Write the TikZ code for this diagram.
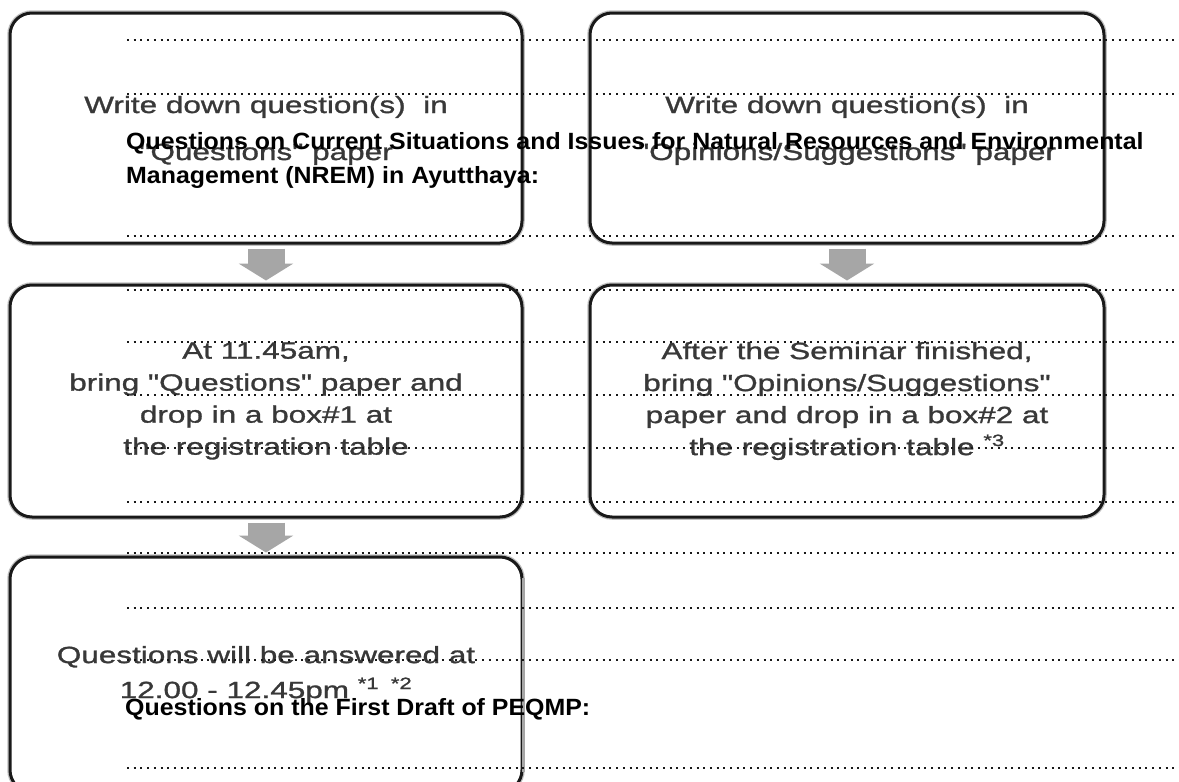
\documentclass[tikz,border=0pt]{standalone}
\usepackage{fontspec}
\setmainfont{Liberation Sans}
\newfontfamily\boxfont{Liberation Sans}[FakeStretch=1.34,FakeBold=1.2]
\newfontfamily\headfont{Liberation Sans}[FakeStretch=1.06]
\usetikzlibrary{arrows.meta,calc}
\definecolor{boxtext}{HTML}{383838}
\definecolor{arrowgray}{HTML}{A6A6A6}
\begin{document}
\begin{tikzpicture}[x=1pt,y=-1pt,
  stepbox/.style={draw=black!90, line width=3pt, fill=white,
    rounded corners=22pt, inner sep=0pt, align=center, text=boxtext,
    preaction={draw=black!25, line width=5.5pt},
    font=\boxfont\fontsize{23.5}{32}\selectfont},
  widebox/.style={stepbox, minimum width=512pt, minimum height=230pt},
  blockarrow/.style={draw=arrowgray, line width=37pt,
    -{Triangle[width=54pt,length=17pt]}, shorten <=4pt, shorten >=3pt},
  dotline/.style={black!90, line width=2pt, dash pattern=on 2pt off 4.7pt},
  head/.style={inner sep=0pt, anchor=base west, text=black,
    font=\headfont\bfseries\fontsize{23.5}{28}\selectfont}]
\useasboundingbox (0,0) rectangle (1179,782);
\clip (0,0) rectangle (1179,782);
\fill[white] (0,0) rectangle (1179,782);

% boxes
\node[widebox, font=\boxfont\fontsize{23.5}{47}\selectfont, text depth=0pt] (b1) at (266,128)
  {Write down question(s)\ \ in\\"Questions" paper};
\node[widebox, font=\boxfont\fontsize{23.5}{47}\selectfont, text depth=0pt, minimum width=514pt] (b2) at (847,128)
  {Write down question(s)\ \ in\\"Opinions/Suggestions" paper};
\node[widebox, minimum height=232pt] (b3) at (266,401)
  {At 11.45am,\\bring "Questions" paper and\\drop in a box\#1 at\\the registration table};
\node[widebox, minimum height=232pt, minimum width=514pt] (b4) at (847,401)
  {After the Seminar finished,\\bring "Opinions/Suggestions"\\paper and drop in a box\#2 at\\the registration table \textsuperscript{*3}};
\node[widebox, minimum height=235pt, font=\boxfont\fontsize{23.5}{35}\selectfont] (b5) at (266,674.5)
  {Questions will be answered at\\12.00 - 12.45pm \textsuperscript{*1\ \ *2}};
\draw[arrowgray, line width=3.5pt] ($(b5.north east)+(0,22)$) -- ($(b5.south east)+(0,-22)$);

% arrows
\draw[blockarrow] (b1.south) -- (b3.north);
\draw[blockarrow] (b2.south) -- (b4.north);
\draw[blockarrow] (b3.south) -- (b5.north);

% dotted writing lines
\foreach \yy in {40,94,236,290,342,395,448,502,553,608,660,768}
  \draw[dotline] (127,\yy) -- (1179,\yy);

% headings
\node[head] (h1) at (126,149) {Questions on Current Situations and Issues for Natural Resources and Environmental};
\node[head] (h2) at (126,183) {Management (NREM) in Ayutthaya:};
\node[head] (h3) at (125,715) {Questions on the First Draft of PEQMP:};
\end{tikzpicture}
\end{document}
